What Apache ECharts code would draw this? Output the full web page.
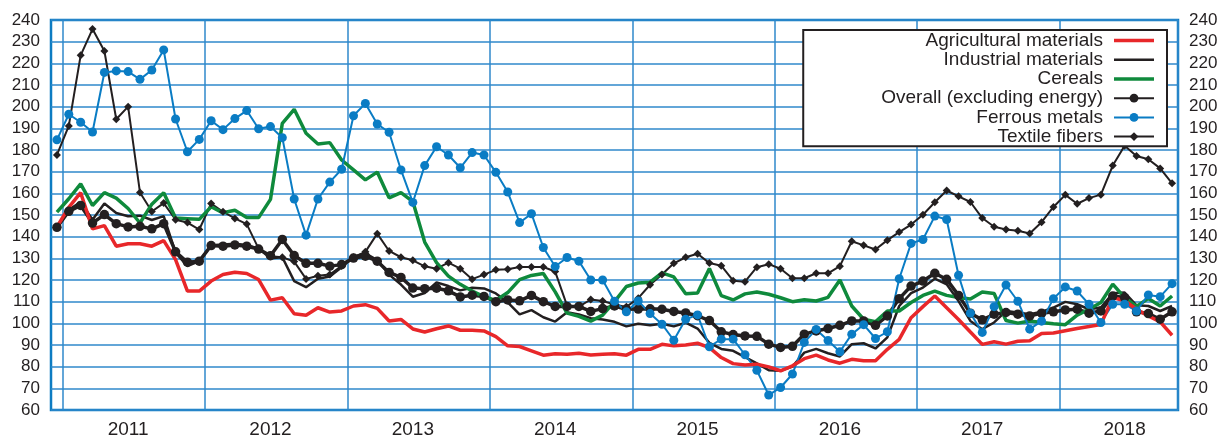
<!DOCTYPE html>
<html>
<head>
<meta charset="utf-8">
<title>Commodity price indices</title>
<script src="https://cdn.jsdelivr.net/npm/echarts@6/dist/echarts.min.js"></script>
<style>
  html, body { margin: 0; padding: 0; background: #fff; }
  #chart { width: 1227px; height: 439px; }
</style>
</head>
<body>
<div id="chart"></div>
<script>
// monthly categories, Dec 2010 .. Oct 2018
const months = []
for (let y = 2010; y <= 2018; y++) {
  for (let m = 1; m <= 12; m++) {
    if (y === 2010 && m < 12) continue
    if (y === 2018 && m > 10) break
    months.push(y + '-' + String(m).padStart(2, '0'))
  }
}

const yearLabels = ['2011', '2012', '2013', '2014', '2015', '2016', '2017', '2018']

const agricultural = [
  144.5, 153.5, 160.3, 143.6, 145.1, 135.6, 136.7, 136.7, 135.6, 138.2, 129.4, 114.9, 114.9,
  119.5, 122.5, 123.6, 123.0, 120.2, 110.7, 111.8, 104.4, 103.7, 107.2, 105.2, 105.7,
  108.0, 108.6, 106.9, 101.1, 101.8, 97.4, 96.0, 97.5, 98.8, 96.8, 96.8, 96.5,
  93.9, 89.6, 89.3, 87.3, 85.3, 86.0, 85.7, 86.2, 85.4, 85.7, 86.0, 85.3,
  88.0, 88.0, 90.3, 89.6, 90.0, 90.8, 88.8, 84.2, 81.4, 80.8, 81.1, 79.9,
  78.1, 80.4, 83.7, 85.3, 83.1, 81.6, 83.4, 82.7, 82.7, 88.0, 92.6, 102.6,
  107.7, 112.6, 107.2, 101.8, 96.0, 90.3, 91.5, 90.4, 91.7, 92.0, 95.3, 95.5,
  96.6, 97.6, 98.5, 99.5, 111.9, 110.4, 106.5, 103.4, 100.7, 94.5
]

const industrial = [
  144.5, 152.4, 156.0, 147.8, 155.3, 150.9, 149.4, 149.7, 147.7, 149.5, 132.6, 126.4, 128.7,
  136.0, 136.4, 136.7, 136.2, 134.5, 130.0, 130.5, 119.5, 116.7, 120.6, 121.6, 125.9,
  130.7, 132.3, 129.2, 122.5, 117.9, 112.3, 114.0, 118.9, 117.2, 115.2, 116.4, 116.1,
  113.8, 109.7, 104.1, 106.1, 102.8, 100.8, 105.1, 104.1, 102.4, 101.8, 100.7, 98.6,
  99.8, 99.1, 99.8, 98.6, 100.3, 97.6, 91.0, 88.2, 87.3, 84.4, 81.5, 78.4,
  78.1, 80.0, 86.5, 88.2, 86.2, 84.7, 90.4, 90.8, 88.4, 93.5, 108.0, 113.9,
  116.5, 120.6, 118.0, 110.3, 101.1, 97.3, 100.4, 105.7, 105.0, 104.2, 105.3, 107.3,
  109.9, 108.8, 106.5, 107.3, 113.9, 114.2, 108.3, 108.0, 105.7, 108.0
]

const cereals = [
  151.3, 157.5, 164.4, 154.4, 160.3, 157.8, 153.0, 146.3, 155.0, 160.3, 148.6, 148.3, 148.0,
  153.8, 151.0, 152.2, 148.8, 148.8, 157.2, 192.3, 198.8, 187.7, 182.8, 183.4, 175.4,
  170.8, 166.2, 169.8, 157.9, 160.3, 156.2, 137.5, 128.0, 121.8, 118.0, 114.9, 112.3,
  110.6, 114.2, 120.2, 122.1, 123.0, 114.5, 104.7, 103.2, 101.0, 103.8, 110.0, 117.0,
  118.6, 119.0, 123.3, 121.4, 113.6, 114.0, 125.3, 112.8, 110.8, 113.6, 114.5, 113.4,
  111.8, 110.0, 110.9, 110.3, 112.0, 120.0, 108.0, 101.9, 100.7, 105.7, 105.7, 109.6,
  112.9, 114.9, 112.9, 111.9, 111.2, 114.5, 113.8, 101.3, 100.1, 101.1, 100.4, 99.8,
  99.4, 103.8, 106.5, 109.6, 118.1, 111.9, 107.8, 111.5, 108.0, 112.6
]

const overall = [
  144.3, 151.7, 154.4, 146.3, 150.2, 146.0, 144.5, 144.8, 143.6, 146.0, 133.0, 128.2, 128.7,
  135.9, 135.6, 136.2, 135.6, 134.3, 131.2, 138.7, 131.3, 127.7, 127.7, 126.4, 127.1,
  130.1, 131.0, 128.7, 123.5, 121.2, 116.3, 116.0, 116.2, 115.0, 112.2, 113.0, 112.4,
  110.0, 110.8, 110.4, 112.9, 110.0, 107.8, 107.8, 107.8, 105.5, 106.8, 108.0, 106.5,
  106.6, 106.7, 106.5, 105.5, 104.8, 103.5, 101.3, 96.1, 94.8, 94.2, 94.0, 90.4,
  88.9, 89.4, 95.0, 96.5, 97.6, 99.1, 101.1, 101.1, 99.1, 103.4, 111.4, 117.2,
  119.5, 123.1, 120.3, 112.9, 104.7, 101.6, 104.2, 105.0, 104.2, 103.4, 104.7, 105.3,
  106.2, 106.5, 104.7, 105.7, 112.6, 111.9, 105.3, 104.5, 101.9, 105.3
]

const ferrous = [
  184.7, 196.5, 192.8, 188.3, 215.8, 216.5, 216.2, 212.6, 216.9, 226.2, 194.3, 179.2, 184.9,
  193.5, 189.4, 194.5, 198.2, 189.8, 190.8, 185.7, 157.4, 140.7, 157.4, 165.2, 171.1,
  195.8, 201.5, 192.0, 188.2, 170.8, 155.8, 172.8, 181.5, 177.7, 171.8, 178.8, 177.7,
  169.7, 160.6, 146.5, 150.6, 135.0, 126.2, 130.4, 128.7, 120.0, 120.0, 110.2, 105.3,
  110.3, 104.5, 99.6, 92.2, 101.9, 103.9, 89.2, 92.7, 92.7, 85.5, 78.3, 66.9,
  70.4, 76.6, 91.2, 97.2, 92.1, 86.9, 95.0, 99.4, 93.0, 96.1, 120.6, 136.9,
  138.7, 149.5, 147.9, 122.2, 104.7, 95.8, 107.7, 117.7, 110.2, 97.3, 101.0, 111.4,
  116.8, 114.9, 108.8, 100.4, 108.8, 108.8, 105.7, 113.1, 112.3, 118.3
]

const textile = [
  177.7, 191.1, 223.7, 235.8, 225.7, 194.2, 200.0, 160.4, 151.6, 155.5, 147.8, 146.5, 143.3,
  155.3, 151.5, 148.4, 145.8, 134.5, 131.0, 130.5, 128.5, 120.5, 122.0, 122.5, 126.5,
  130.5, 133.0, 141.4, 133.4, 130.5, 129.1, 126.3, 125.2, 128.0, 125.2, 120.4, 122.5,
  124.7, 125.0, 126.0, 126.0, 126.0, 123.9, 108.2, 107.7, 111.0, 110.3, 108.7, 107.6,
  111.6, 117.8, 122.5, 127.7, 130.5, 132.1, 127.8, 126.6, 119.7, 119.2, 125.9, 127.3,
  125.2, 120.8, 120.8, 123.1, 123.1, 126.4, 137.9, 136.0, 134.1, 138.4, 142.1, 145.6,
  150.1, 155.9, 161.3, 158.6, 156.0, 148.6, 144.6, 143.3, 142.7, 141.5, 146.7, 153.7,
  159.3, 155.2, 157.8, 159.4, 172.8, 182.0, 177.2, 175.7, 171.5, 164.6
]

const FONT = '"Liberation Sans", Arial, Helvetica, sans-serif'
const INK = '#231f20'
const BLUE = '#0d7cc2'
const GRID_BLUE = '#2f88cb'

// 线条系列的通用构造
const lineSeries = (name, data, color, width, symbol, symbolSize) => ({
  name,
  type: 'line',
  data,
  symbol: symbol || 'none',
  symbolSize: symbolSize || 0,
  showSymbol: !!symbol,
  showAllSymbol: true,
  lineStyle: { color, width },
  itemStyle: { color },
  emphasis: { disabled: true }
})

// 无标记系列的图例用一条横线
const barIcon = h => 'path://M0,0H40V' + h + 'H0Z'

const chart = echarts.init(document.getElementById('chart'))

chart.setOption({
  animation: false,
  textStyle: { fontFamily: FONT },
  grid: {
    left: 51,
    right: 49,
    top: 20,
    bottom: 28,
    show: true,
    borderColor: BLUE,
    borderWidth: 2.5,
    backgroundColor: 'transparent'
  },
  legend: {
    data: [
      { name: 'Agricultural materials', icon: barIcon(3.5) },
      { name: 'Industrial materials', icon: barIcon(2.5) },
      { name: 'Cereals', icon: barIcon(3.5) },
      'Overall (excluding energy)',
      'Ferrous metals',
      'Textile fibers'
    ],
    orient: 'vertical',
    align: 'right',
    right: 60,
    top: 30,
    itemWidth: 40,
    itemHeight: 11,
    itemGap: 0,
    symbolKeepAspect: true,
    padding: [1, 12, 0, 78],
    backgroundColor: '#fff',
    borderColor: INK,
    borderWidth: 2,
    borderRadius: 0,
    textStyle: { fontSize: 19, lineHeight: 19.2, color: INK, fontFamily: FONT, padding: [0, 6, 0, 0] }
  },
  xAxis: {
    type: 'category',
    data: months,
    boundaryGap: true,
    axisLine: { show: false },
    axisTick: { show: false },
    axisLabel: {
      color: INK,
      fontSize: 19,
      margin: 10,
      interval: (i, v) => v.endsWith('-06') && yearLabels.includes(v.slice(0, 4)),
      formatter: v => v.slice(0, 4)
    },
    splitLine: {
      show: true,
      interval: (i, v) => v.endsWith('-01'),
      lineStyle: { color: GRID_BLUE, width: 1.5 }
    }
  },
  yAxis: [
    {
      type: 'value',
      min: 60,
      max: 240,
      interval: 10,
      axisLine: { show: false },
      axisTick: { show: false },
      axisLabel: { color: INK, fontSize: 17, margin: 11 },
      splitLine: { lineStyle: { color: GRID_BLUE, width: 1.5 } }
    },
    {
      type: 'value',
      min: 60,
      max: 240,
      interval: 10,
      position: 'right',
      axisLine: { show: false },
      axisTick: { show: false },
      axisLabel: { color: INK, fontSize: 17, margin: 11 },
      splitLine: { show: false }
    }
  ],
  series: [
    lineSeries('Textile fibers', textile, INK, 2, 'diamond', 8),
    lineSeries('Industrial materials', industrial, INK, 2.5),
    lineSeries('Overall (excluding energy)', overall, INK, 3.5, 'circle', 9.5),
    lineSeries('Cereals', cereals, '#0f8a3c', 3.5),
    lineSeries('Ferrous metals', ferrous, '#0a7cc4', 2, 'circle', 9),
    lineSeries('Agricultural materials', agricultural, '#e8272a', 3.5)
  ]
})

window.addEventListener('resize', () => chart.resize())
</script>
</body>
</html>
